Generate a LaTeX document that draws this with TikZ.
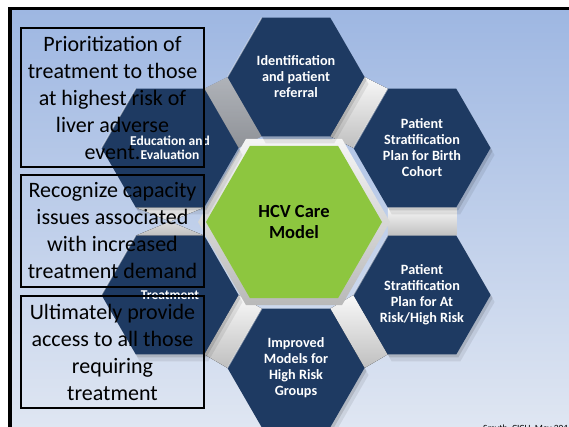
\documentclass[tikz,border=0pt]{standalone}
\usepackage{fontspec}
\setmainfont{Carlito}
\usetikzlibrary{shapes.geometric,calc,shadows}
\definecolor{navy}{RGB}{30,58,98}
\definecolor{leaf}{RGB}{141,198,63}
\definecolor{skytop}{RGB}{158,183,226}
\definecolor{skybot}{RGB}{223,230,242}
\begin{document}
\begin{tikzpicture}[x=1pt,y=-1pt,
  hexbase/.style={regular polygon, regular polygon sides=6, inner sep=0pt, align=center},
  outerhex/.style={hexbase, minimum size=137pt, fill=navy, text=white,
    font=\bfseries\fontsize{14.2}{16}\selectfont,
    drop shadow={shadow xshift=2pt, shadow yshift=-3pt, opacity=.12, fill=black},
    drop shadow={shadow xshift=4pt, shadow yshift=-7pt, opacity=.08, fill=black}},
  smalltext/.style={font=\bfseries\fontsize{13.5}{14.5}\selectfont},
  centerhex/.style={hexbase, minimum size=176pt, fill=leaf, text=black,
    font=\bfseries\fontsize{18.5}{20.5}\selectfont},
  rimhex/.style={hexbase, minimum size=192pt, top color=white!92!gray, bottom color=gray!55},
  link/.style={top color=white!95!gray, bottom color=gray!50},
  glint/.style={white, opacity=.45, line width=1.2pt},
  notebox/.style={draw=black, line width=1.4pt, fill=none, align=center, inner sep=0pt,
    minimum width=183pt, font=\fontsize{22}{27}\selectfont}]
\useasboundingbox (0,0) rectangle (569,427);
% page, frame and backdrop
\fill[white] (0,0) rectangle (569,427);
\shade[top color=skytop, bottom color=skybot] (12,10) rectangle (569,427);
\fill[black] (8,7) rectangle (569,10);
\fill[black] (8,7) rectangle (12,427);

% centres of the cluster
\coordinate (c0) at (294,222);
\coordinate (c1) at (296,77);
\coordinate (c2) at (422,148);
\coordinate (c3) at (422,295);
\coordinate (c4) at (296,368);
\coordinate (c5) at (170,295);
\coordinate (c6) at (170,148);

% bevel pieces between neighbouring hexagons
\def\hr{68.5}
\fill[link] ($(c1)+(0:\hr)$) -- ($(c1)+(60:\hr)$) -- ($(c2)+(180:\hr)$) -- ($(c2)+(240:\hr)$) -- cycle;
\fill[link] ($(c2)+(60:\hr)$) -- ($(c2)+(120:\hr)$) -- ($(c3)+(240:\hr)$) -- ($(c3)+(300:\hr)$) -- cycle;
\fill[link] ($(c3)+(120:\hr)$) -- ($(c3)+(180:\hr)$) -- ($(c4)+(300:\hr)$) -- ($(c4)+(0:\hr)$) -- cycle;
\fill[link] ($(c4)+(180:\hr)$) -- ($(c4)+(240:\hr)$) -- ($(c5)+(0:\hr)$) -- ($(c5)+(60:\hr)$) -- cycle;
\fill[link] ($(c5)+(240:\hr)$) -- ($(c5)+(300:\hr)$) -- ($(c6)+(120:\hr)$) -- ($(c6)+(60:\hr)$) -- cycle;
\fill[link, opacity=.6] ($(c6)+(300:\hr)$) -- ($(c6)+(0:\hr)$) -- ($(c1)+(120:\hr)$) -- ($(c1)+(180:\hr)$) -- cycle;

% centre hexagon with its light rim
\node[rimhex] (rim) at (c0) {};
\node[centerhex] (core) at (c0) {HCV Care\\Model};

% surrounding hexagons
\node[outerhex] (ident) at (c1) {Identification\\and patient\\referral};
\node[outerhex] (birth) at (c2) {Patient\\Stratification\\Plan for Birth\\Cohort};
\node[outerhex] (risk) at (c3) {Patient\\Stratification\\Plan for At\\Risk/High Risk};
\node[outerhex] (models) at (c4) {Improved\\Models for\\High Risk\\Groups};
\node[outerhex, smalltext] (treat) at (c5) {Treatment};
\node[outerhex, smalltext] (edu) at (c6) {Education and\\Evaluation};

% highlight along the upper left edges
\foreach \h in {c1,c2,c3,c4,c5,c6}
  \draw[glint] ($(\h)+(180:\hr)$) -- ($(\h)+(240:\hr)$);

% notes on the left
\node[notebox, minimum height=139pt] (note1) at (112.5,97.5)
  {Prioritization of\\treatment to those\\at highest risk of\\liver adverse\\event.};
\node[notebox, minimum height=112pt] (note2) at (112.5,231)
  {Recognize capacity\\issues associated\\with increased\\treatment demand};
\node[notebox, minimum height=112pt] (note3) at (112.5,352)
  {Ultimately provide\\access to all those\\requiring\\treatment};

% source line
\node[anchor=base west, inner sep=0pt, font=\fontsize{9.5}{11}\selectfont] (src) at (483,431)
  {Smyth, CICH, May 201};
\end{tikzpicture}
\end{document}
